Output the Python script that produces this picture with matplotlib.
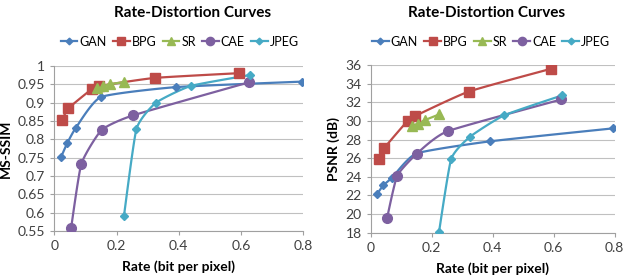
import matplotlib
matplotlib.use('Agg')
import matplotlib.pyplot as plt
import numpy as np

plt.rcParams['font.family'] = ['Lato', 'DejaVu Sans']

names = ['GAN', 'BPG', 'SR', 'CAE', 'JPEG']
colors = ['#4A7EBB', '#BE4B48', '#98B954', '#7D60A0', '#46AAC5']
markers = ['D', 's', '^', 'o', 'D']
msizes = [4, 7, 7, 7, 4]

# rates (bit per pixel)
gan_rate = [0.022, 0.042, 0.070, 0.150, 0.390, 0.795]
bpg_rate = [0.026, 0.045, 0.121, 0.144, 0.322, 0.592]
sr_rate = [0.136, 0.155, 0.179, 0.225]
cae_rate = [0.054, 0.087, 0.152, 0.253, 0.625]
jpeg_rate = [0.224, 0.264, 0.326, 0.438, 0.629]

# MS-SSIM
gan_ssim = [0.752, 0.790, 0.832, 0.915, 0.942, 0.957]
bpg_ssim = [0.853, 0.884, 0.937, 0.945, 0.967, 0.980]
sr_ssim = [0.939, 0.944, 0.950, 0.956]
cae_ssim = [0.558, 0.733, 0.825, 0.865, 0.955]
jpeg_ssim = [0.592, 0.828, 0.899, 0.945, 0.975]

# PSNR (dB)
gan_psnr = [22.2, 23.1, 23.9, 26.5, 27.8, 29.2]
bpg_psnr = [25.9, 27.1, 30.0, 30.5, 33.15, 35.6]
sr_psnr = [29.5, 29.7, 30.1, 30.7]
cae_psnr = [19.6, 24.1, 26.5, 28.9, 32.3]
jpeg_psnr = [18.05, 25.9, 28.3, 30.6, 32.75]

rates = [gan_rate, bpg_rate, sr_rate, cae_rate, jpeg_rate]
ssims = [gan_ssim, bpg_ssim, sr_ssim, cae_ssim, jpeg_ssim]
psnrs = [gan_psnr, bpg_psnr, sr_psnr, cae_psnr, jpeg_psnr]


def smooth(x, y, n=20):
    # Catmull-Rom style smoothing like Excel's smoothed lines
    x = np.asarray(x, float)
    y = np.asarray(y, float)
    if len(x) < 3:
        return x, y
    px = np.concatenate([[x[0]], x, [x[-1]]])
    py = np.concatenate([[y[0]], y, [y[-1]]])
    xs, ys = [], []
    for i in range(1, len(px) - 2):
        t = np.linspace(0, 1, n, endpoint=False)
        t2, t3 = t * t, t * t * t
        for p, out in ((px, xs), (py, ys)):
            p0, p1, p2, p3 = p[i - 1], p[i], p[i + 1], p[i + 2]
            m1 = (p2 - p0) / 2 * 0.5
            m2 = (p3 - p1) / 2 * 0.5
            out.extend((2 * t3 - 3 * t2 + 1) * p1 + (t3 - 2 * t2 + t) * m1
                       + (-2 * t3 + 3 * t2) * p2 + (t3 - t2) * m2)
    xs.append(x[-1])
    ys.append(y[-1])
    return np.array(xs), np.array(ys)


def draw(ax, ys_list, ylim, yticks, ylabel, yfmt):
    for r, v, c, m, ms, nm in zip(rates, ys_list, colors, markers, msizes, names):
        sx, sy = smooth(r, v)
        ax.plot(sx, sy, color=c, lw=1.6, zorder=3)
        ax.plot(r, v, linestyle='none', marker=m, color=c, ms=ms, zorder=4)
        ax.plot([], [], color=c, lw=1.6, marker=m, ms=ms * 0.85, label=nm)
    ax.set_xlim(0, 0.8)
    ax.set_ylim(*ylim)
    ax.set_xticks([0, 0.2, 0.4, 0.6, 0.8])
    ax.set_xticklabels(['0', '0.2', '0.4', '0.6', '0.8'])
    ax.set_yticks(yticks)
    ax.set_yticklabels([yfmt(t) for t in yticks])
    ax.yaxis.grid(True, color='#C0C0C0', lw=0.8)
    ax.set_axisbelow(True)
    for s in ['top', 'right']:
        ax.spines[s].set_visible(False)
    for s in ['left', 'bottom']:
        ax.spines[s].set_color('#A0A0A0')
    ax.tick_params(colors='#A0A0A0', labelcolor='#404040', labelsize=10, length=3)
    ax.set_xlabel('Rate (bit per pixel)', fontsize=10, fontweight='bold', labelpad=6)
    ax.set_ylabel(ylabel, fontsize=10, fontweight='bold')


fig = plt.figure(figsize=(6.24, 2.79), dpi=100)
ax1 = fig.add_axes([0.087, 0.172, 0.399, 0.592])
ax2 = fig.add_axes([0.594, 0.166, 0.391, 0.601])

draw(ax1, ssims, (0.55, 1.0), [0.55 + 0.05 * i for i in range(10)], 'MS-SSIM',
     lambda t: ('%g' % round(t, 2)))
draw(ax2, psnrs, (18, 36), list(range(18, 37, 2)), 'PSNR (dB)',
     lambda t: '%d' % t)

fig.text(0.308, 0.955, 'Rate-Distortion Curves', ha='center', va='center',
         fontsize=11, fontweight='bold')
fig.text(0.779, 0.955, 'Rate-Distortion Curves', ha='center', va='center',
         fontsize=11, fontweight='bold')

for ax, cx in ((ax1, 0.288), (ax2, 0.787)):
    fig.legend(*ax.get_legend_handles_labels(), loc='center', ncol=5,
               bbox_to_anchor=(cx, 0.85), frameon=False, fontsize=9,
               handlelength=1.35, handletextpad=0.15, columnspacing=0.5,
               borderpad=0.1, borderaxespad=0)

plt.savefig('out.png')
plt.close()
